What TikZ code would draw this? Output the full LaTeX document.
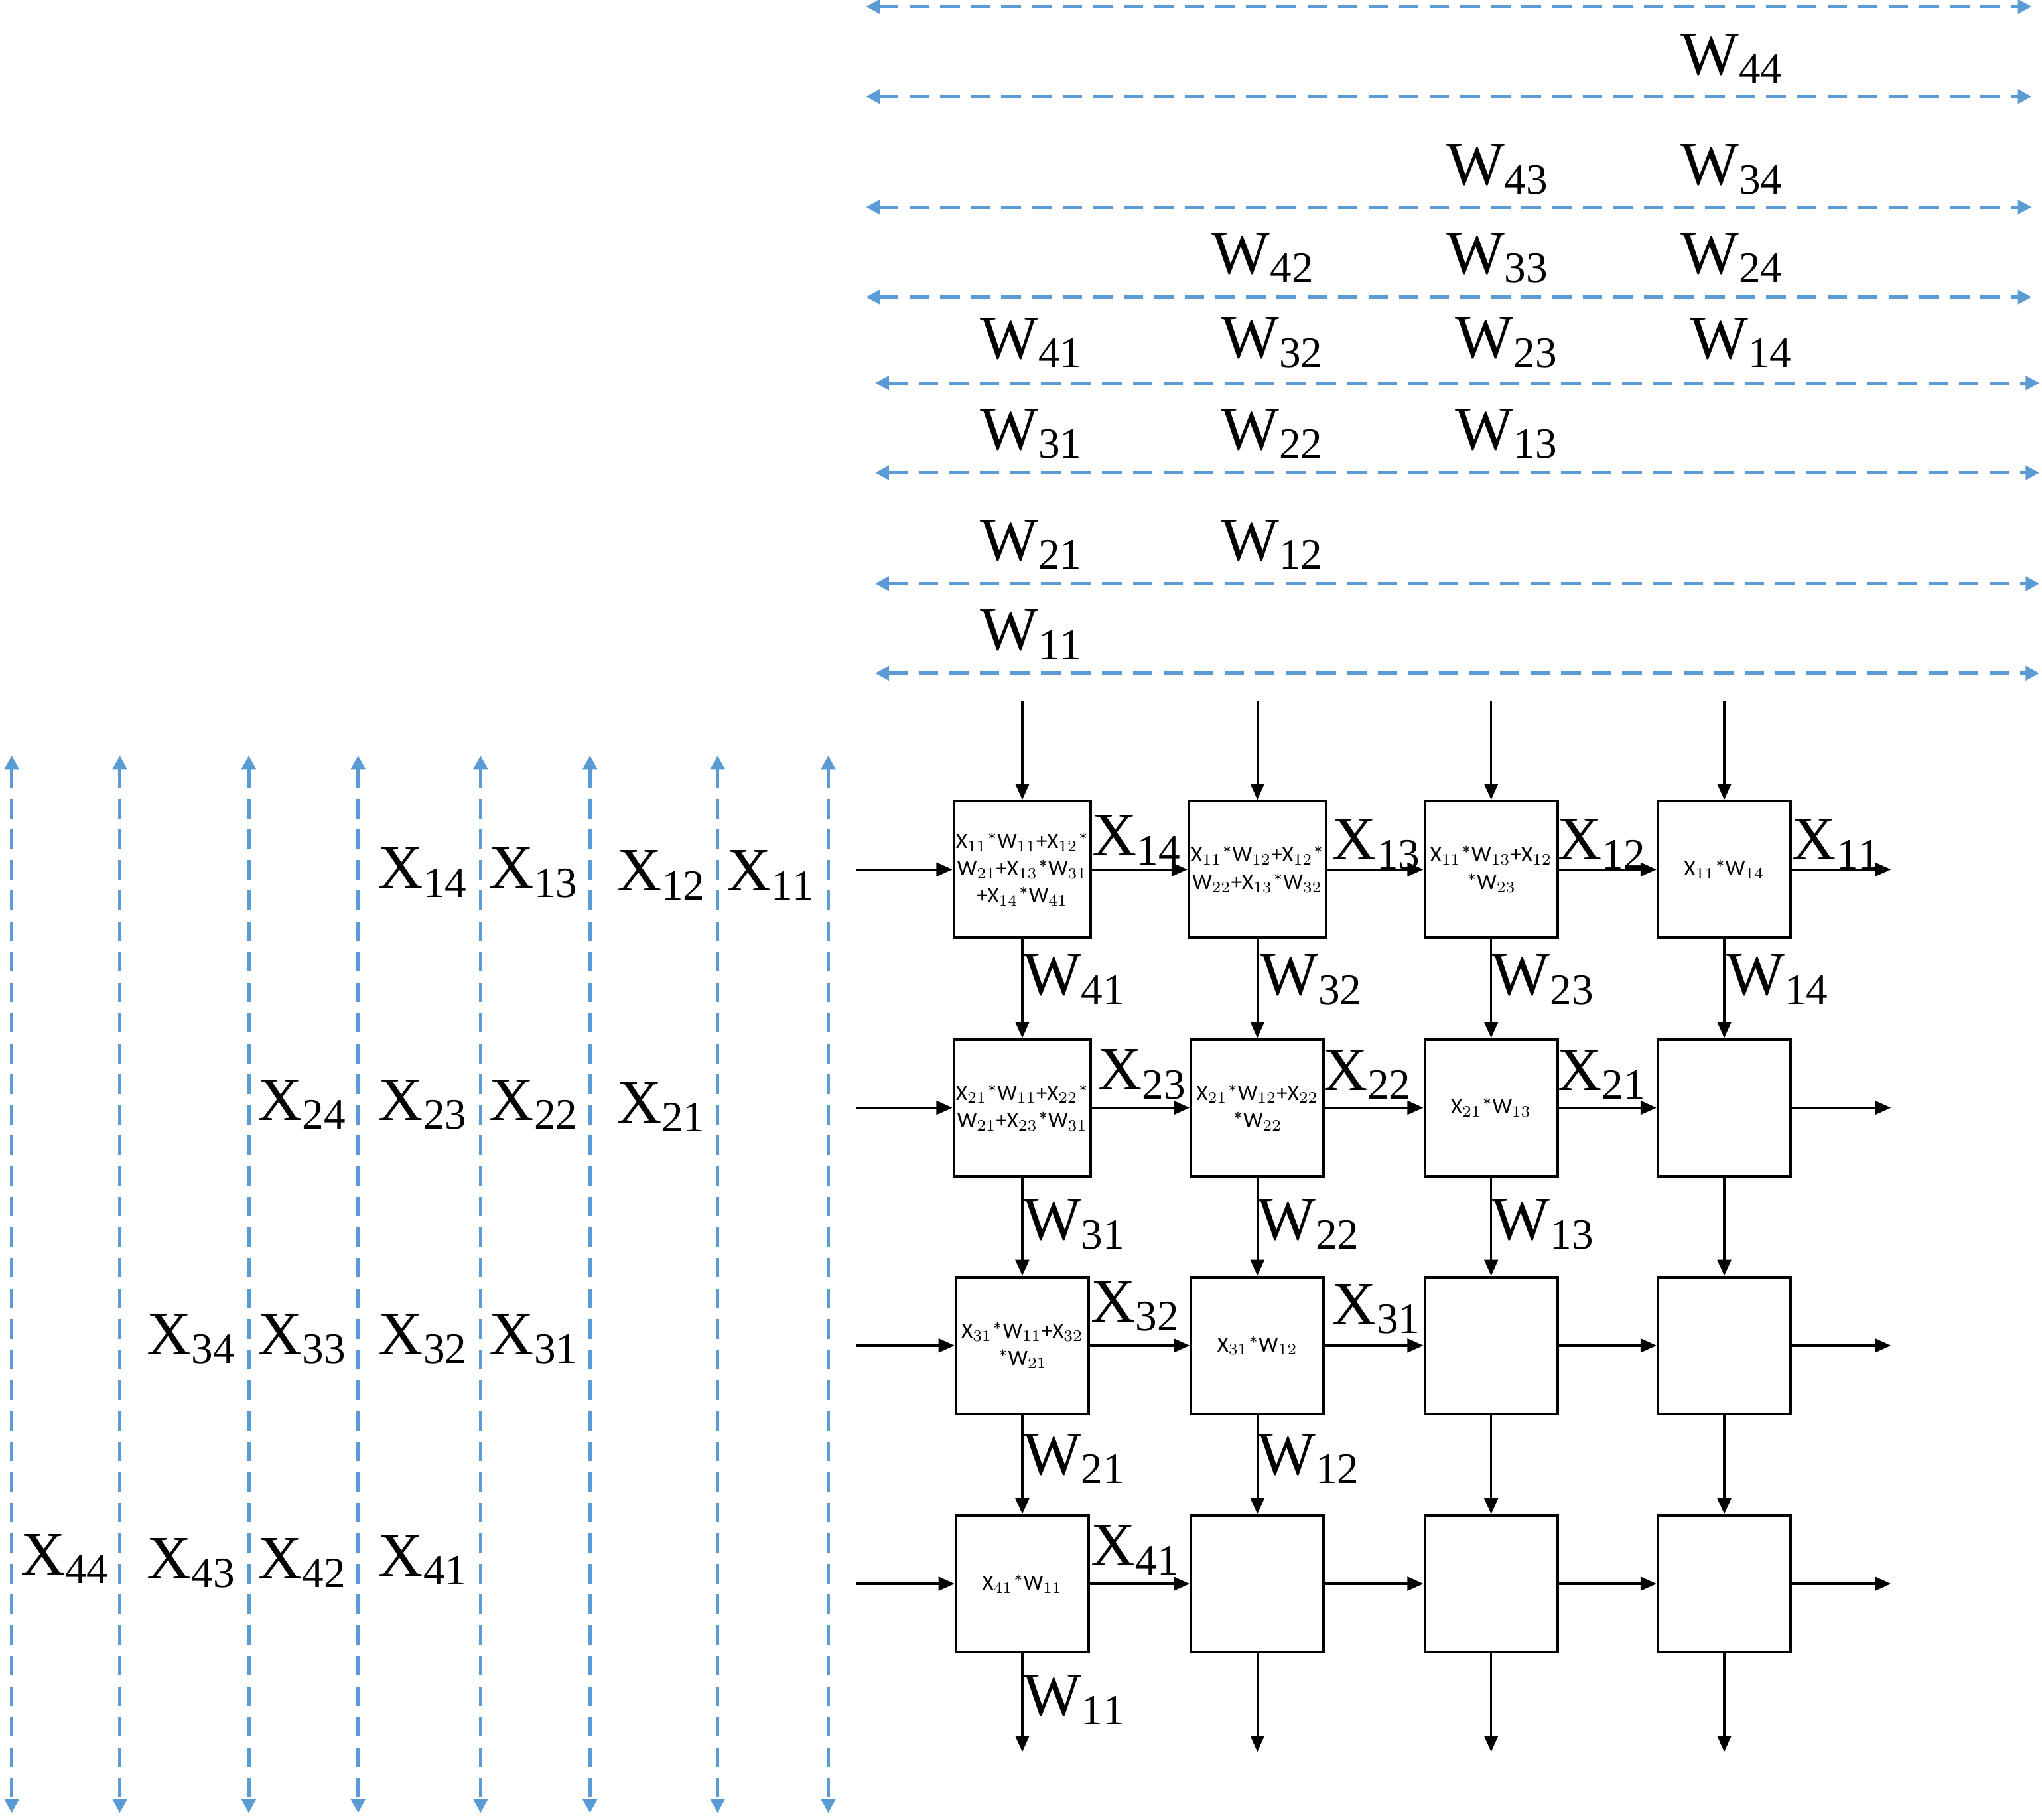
\documentclass[tikz,border=0pt]{standalone}
\usepackage{fontspec}
\setmainfont{Liberation Serif}
\newfontfamily\boxfont{Carlito}
\usetikzlibrary{arrows.meta}
\definecolor{dblue}{RGB}{91,155,213}
\begin{document}
\begin{tikzpicture}[x=0.02cm,y=-0.02cm,
  dl/.style={dblue,line width=1.5pt,dash pattern=on 0.3cm off 0.17cm,{Triangle[length=6pt,width=6pt]}-{Triangle[length=6pt,width=6pt]}},
  ar/.style={black,line width=1pt,-{Triangle[length=7pt,width=6pt]}},
  pe/.style={draw,line width=1.2pt,minimum width=2.04cm,minimum height=2.1cm,inner sep=1pt,align=center,font=\boxfont\fontsize{9.5}{12}\selectfont},
  lb/.style={font=\fontsize{27}{30}\selectfont,inner sep=0pt}]
\useasboundingbox (0,0) rectangle (1568,1397);
% horizontal dashed lines
\foreach \y in {5,74,159,228} {\coordinate (hl\y) at (665,\y); \coordinate (hr\y) at (1560,\y); \draw[dl] (hl\y) -- (hr\y);}
\foreach \y in {294,363,448,517} {\coordinate (hl\y) at (672,\y); \coordinate (hr\y) at (1566,\y); \draw[dl] (hl\y) -- (hr\y);}
% vertical dashed lines
\foreach \x in {9,92,191,275,369,453,551,636} {\coordinate (vt\x) at (\x,580); \coordinate (vb\x) at (\x,1392); \draw[dl] (vt\x) -- (vb\x);}
% top W labels
\foreach \t/\x/\y in {44/1330/45, 43/1150/130, 34/1330/130, 42/970/198, 33/1150/198, 24/1330/198,
  41/792/263, 32/977/263, 23/1157/263, 14/1337/263, 31/792/333, 22/977/333, 13/1157/333,
  21/792/418, 12/977/418, 11/792/487}
  \node[lb] (tw\t) at (\x,\y) {W$_{\mathrm{\t}}$};
% left X labels
\foreach \t/\x/\y in {14/325/670, 13/410/670, 12/508/672, 11/592/672,
  24/232/848, 23/325/848, 22/410/848, 21/508/850,
  34/147/1028, 33/232/1028, 32/325/1028, 31/410/1028,
  44/50/1197, 43/147/1200, 42/232/1200, 41/325/1198}
  \node[lb] (lx\t) at (\x,\y) {X$_{\mathrm{\t}}$};
% PE boxes
\node[pe] (b11) at (785,667.5) {X$_{11}$*W$_{11}$+X$_{12}$*\\W$_{21}$+X$_{13}$*W$_{31}$\\+X$_{14}$*W$_{41}$};
\node[pe] (b12) at (965.5,667.5) {X$_{11}$*W$_{12}$+X$_{12}$*\\W$_{22}$+X$_{13}$*W$_{32}$};
\node[pe] (b13) at (1145,667.5) {X$_{11}$*W$_{13}$+X$_{12}$\\*W$_{23}$};
\node[pe] (b14) at (1324,667.5) {X$_{11}$*W$_{14}$};
\node[pe] (b21) at (785,850.5) {X$_{21}$*W$_{11}$+X$_{22}$*\\W$_{21}$+X$_{23}$*W$_{31}$};
\node[pe] (b22) at (965.5,850.5) {X$_{21}$*W$_{12}$+X$_{22}$\\*W$_{22}$};
\node[pe] (b23) at (1145,850.5) {X$_{21}$*W$_{13}$};
\node[pe] (b24) at (1324,850.5) {};
\node[pe] (b31) at (785,1033) {X$_{31}$*W$_{11}$+X$_{32}$\\*W$_{21}$};
\node[pe] (b32) at (965.5,1033) {X$_{31}$*W$_{12}$};
\node[pe] (b33) at (1145,1033) {};
\node[pe] (b34) at (1324,1033) {};
\node[pe] (b41) at (785,1216) {X$_{41}$*W$_{11}$};
\node[pe] (b42) at (965.5,1216) {};
\node[pe] (b43) at (1145,1216) {};
\node[pe] (b44) at (1324,1216) {};
% connectors
\foreach \c/\x in {1/785,2/965.5,3/1145,4/1324} {
  \coordinate (in\c) at (\x,538); \draw[ar] (in\c) -- (b1\c.north);
  \coordinate (out\c) at (\x,1345); \draw[ar] (b4\c.south) -- (out\c);
  \draw[ar] (b1\c) -- (b2\c); \draw[ar] (b2\c) -- (b3\c); \draw[ar] (b3\c) -- (b4\c);
}
\foreach \r/\y in {1/667.5,2/850.5,3/1033,4/1216} {
  \coordinate (li\r) at (657,\y); \draw[ar] (li\r) -- (b\r1.west);
  \coordinate (ro\r) at (1452,\y); \draw[ar] (b\r4.east) -- (ro\r);
  \draw[ar] (b\r1) -- (b\r2); \draw[ar] (b\r2) -- (b\r3); \draw[ar] (b\r3) -- (b\r4);
}
% labels in array
\foreach \t/\x/\y in {14/873/645, 13/1057/648, 12/1230/648, 11/1410/648, 23/877/825, 22/1050/825, 21/1230/825,
  32/872/1003, 31/1057/1005, 41/872/1190}
  \node[lb] (ax\t) at (\x,\y) {X$_{\mathrm{\t}}$};
\foreach \t/\x/\y in {41/825/752, 32/1007/752, 23/1185/752, 14/1365/752, 31/825/940, 22/1005/940, 13/1185/940,
  21/825/1120, 12/1005/1120, 11/825/1305}
  \node[lb] (aw\t) at (\x,\y) {W$_{\mathrm{\t}}$};
\end{tikzpicture}
\end{document}
